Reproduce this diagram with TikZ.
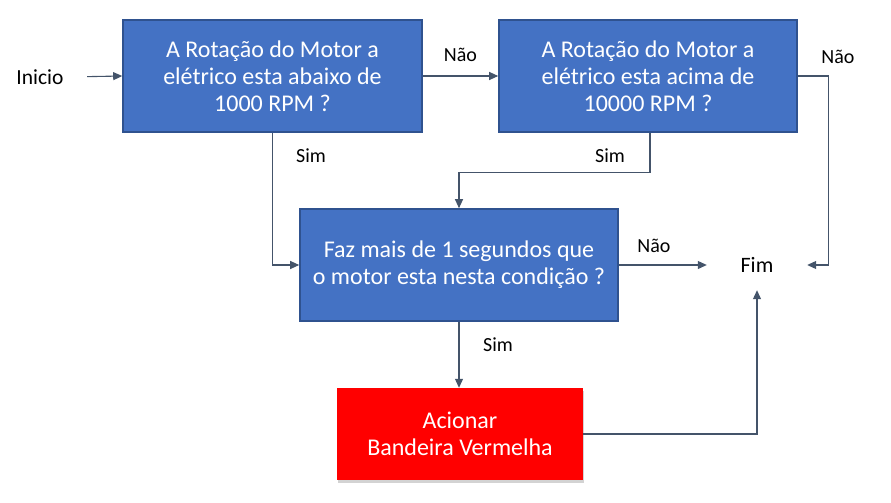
\documentclass[tikz,border=0pt]{standalone}
\usepackage{fontspec}
\setmainfont{Carlito}
\usetikzlibrary{positioning,arrows.meta,shadows}

\definecolor{boxblue}{HTML}{4472C4}
\definecolor{boxedge}{HTML}{2F528F}
\definecolor{flagred}{HTML}{FF0000}
\definecolor{linkgray}{HTML}{44546A}

\begin{document}
\begin{tikzpicture}[x=1pt,y=-1pt,
    question/.style={draw=boxedge,line width=1.6pt,fill=boxblue,text=white,
      align=center,font=\fontsize{24}{27}\selectfont,inner sep=0pt},
    action/.style={fill=flagred,text=white,align=center,
      font=\fontsize{24}{27}\selectfont,inner sep=0pt,
      drop shadow={opacity=0.35,shadow xshift=1pt,shadow yshift=-2.5pt}},
    link/.style={linkgray,line width=1.1pt,-{Triangle[length=9pt,width=8pt]}},
    tag/.style={text=black,font=\fontsize{20}{22}\selectfont,inner sep=0pt}]
  \path[use as bounding box] (0,0) rectangle (891,503);

  \node[font=\fontsize{21.5}{24}\selectfont] (start) at (40,77) {Inicio};
  \node[question,minimum width=299pt,minimum height=112pt] (q1) at (272.5,76)
    {A Rotação do Motor a\\elétrico esta abaixo de\\1000 RPM ?};
  \node[question,minimum width=298pt,minimum height=112pt] (q2) at (648,76)
    {A Rotação do Motor a\\elétrico esta acima de\\10000 RPM ?};
  \node[question,minimum width=318pt,minimum height=112pt] (q3) at (459,265)
    {Faz mais de 1 segundos que\\o motor esta nesta condição ?};
  \node[action,minimum width=246pt,minimum height=92pt] (flag) at (460,434)
    {Acionar\\Bandeira Vermelha};
  \node[font=\fontsize{22}{24}\selectfont,minimum width=100pt,minimum height=50pt] (fim) at (757,265) {Fim};

  \draw[link,shorten <=20pt] (start.east) -- (q1.west);
  \draw[link] (q1.east) -- (q2.west) node[tag,midway,above=14pt] {Não};
  \draw[link] (q2.east) -- ++(31,0) |- (fim.east);
  \node[tag] at (838,57) {Não};

  \draw[link] (q1.south) |- (q3.west);
  \node[tag] at (311,156) {Sim};
  \draw[link] ([xshift=2pt]q2.south) -- ++(0,40) -| (q3.north);
  \node[tag] at (610,156) {Sim};

  \draw[link] (q3.east) -- (fim.west) node[tag,pos=0.4,above=12pt] {Não};
  \draw[link] (q3.south) -- ([xshift=-1pt]flag.north);
  \node[tag] at (498,345) {Sim};
  \draw[link] (flag.east) -| (fim.south);
\end{tikzpicture}
\end{document}
